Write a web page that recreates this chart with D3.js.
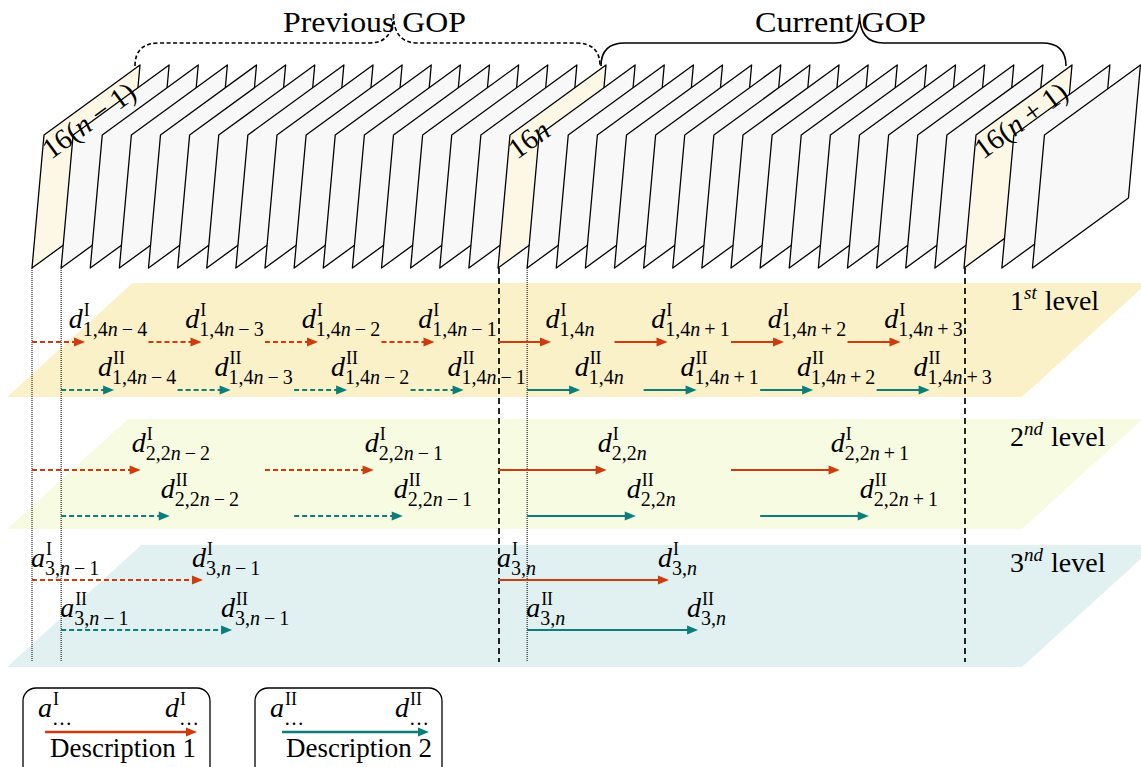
<!DOCTYPE html>
<html>
<head>
<meta charset="utf-8" />
<title>GOP description levels</title>
<script src="https://d3js.org/d3.v7.min.js"></script>
<style>
  body { margin: 0; background: #fff; }
  text { font-family: "Liberation Serif", "DejaVu Serif", serif; fill: #000; }
</style>
</head>
<body>
<svg id="fig"></svg>
<script>
// ---- data ----
// frames, in frame units counted from frame 16(n-1)
var frameIndex = [0,1,2,3,4,5,6,7,8,9,10,11,12,13,14,15,16,17,18,19,20,21,22,23,24,25,26,27,28,29,30,31,32,33.3,34.35];
var keyFrames = [0, 16, 32];
var keyFrameLabels = ["16(n−1)", "16n", "16(n+1)"];
var gopNames = ["Previous GOP", "Current GOP"];
var gopBounds = [[0, 16], [16, 32]];
var currentGopStart = 16;

var levelNums = ["1", "2", "3"];
var levelSups = ["st", "nd", "nd"];
var startsI = [[0, 4, 8, 12, 16, 20, 24, 28], [0, 8, 16, 24], [0, 16]];
var startsII = [[1, 5, 9, 13, 17, 21, 25, 29], [1, 9, 17, 25], [1, 17]];
var spans = [1.82, 3.73, 5.87]; // arrow length in frames
var subLabels = [
  ["1,4n−4", "1,4n−3", "1,4n−2", "1,4n−1", "1,4n", "1,4n+1", "1,4n+2", "1,4n+3"],
  ["2,2n−2", "2,2n−1", "2,2n", "2,2n+1"],
  ["3,n−1", "3,n"]
];
var descNames = ["Description 1", "Description 2"];
var descSups = ["I", "II"];
var dottedLines = [0, 1, 17];
var dashedLines = [16, 32];

// ---- layout ----
var width = 1141, height = 767;
var red = "#cf3b0c", teal = "#0c7e7a";
var colors = [red, teal];
var levelLayout = [
  {top: 283, bottom: 397, fill: "#fbf1c9", rows: [342, 390], lab: 14, anchor: "middle", off: 19},
  {top: 419, bottom: 529, fill: "#f7fbe1", rows: [470, 516], lab: 18, anchor: "start", off: -9},
  {top: 545, bottom: 667, fill: "#e1f1f1", rows: [580, 630], lab: 13, anchor: "start", off: -11}
];

var svg = d3.select("#fig").attr("width", width).attr("height", height);

var x = d3.scaleLinear().domain([0, 32]).range([32, 964]);
var step = x(1) - x(0);

// write text where lower-case letters are italic and +/− get math spacing
function appendMath(t, str, gap, first) {
  var parts = str.match(/[a-z]|[−+]|[^a-z−+]+/g);
  var pad = 0;
  parts.forEach(function(p, i) {
    var ts = t.append("tspan").text(p);
    if (i === 0 && first) first(ts);
    if (/[a-z]/.test(p)) ts.style("font-style", "italic");
    if (p === "−" || p === "+") { ts.attr("dx", gap); pad = gap; }
    else if (pad) { ts.attr("dx", pad); pad = 0; }
  });
  return t;
}

// letter with stacked superscript / subscript, as one text element
function mathLabel(parent, xPos, yBase, letter, sup, sub, anchor) {
  var probe = parent.append("text").style("font-style", "italic").style("font-size", "28px").text(letter);
  var w = probe.node().getComputedTextLength();
  probe.remove();
  var t = parent.append("text").attr("y", yBase);
  t.append("tspan").style("font-style", "italic").style("font-size", "28px").text(letter);
  t.append("tspan").attr("dx", 1).attr("dy", -12).style("font-size", "18px").text(sup);
  var supW = t.node().getComputedTextLength() - w;
  var subStart = null;
  appendMath(t, sub, 4, function(ts) { subStart = ts; });
  subStart.attr("dy", 20);
  t.selectAll("tspan").filter(function(d, i) { return i >= 2; }).style("font-size", "20px");
  // put the subscript under the superscript
  var total = t.node().getComputedTextLength();
  var subW = total - w - supW;
  subStart.attr("dx", -supW - 1 + (+subStart.attr("dx") || 0));
  var full = w + Math.max(supW, subW);
  var x0 = anchor === "middle" ? xPos - full / 2 : xPos;
  t.attr("x", x0);
}

function arrow(parent, x1, x2, y, color, dashed, w) {
  parent.append("line")
    .attr("x1", x1).attr("x2", x2 - 8).attr("y1", y).attr("y2", y)
    .attr("stroke", color).attr("stroke-width", w || 2)
    .attr("stroke-dasharray", dashed ? "5,3" : null);
  parent.append("path")
    .attr("d", "M" + x2 + "," + y + "L" + (x2 - 11) + "," + (y - 4.5) + "L" + (x2 - 11) + "," + (y + 4.5) + "Z")
    .attr("fill", color);
}

// ---- level planes ----
var planes = svg.append("g");
levelLayout.forEach(function(L) {
  var h = L.bottom - L.top, skew = h * 1.1;
  planes.append("path")
    .attr("d", "M7," + L.bottom + "L" + (7 + skew) + "," + L.top + "L" + (1022 + skew) + "," + L.top +
      "L1022," + L.bottom + "Z")
    .attr("fill", L.fill);
});

// ---- frames ----
var fy = 268;
var frames = svg.append("g");
frameIndex.forEach(function(i) {
  var x0 = x(i);
  var pts = [[x0, fy], [x0 + 12, fy - 133], [x0 + 108, fy - 203], [x0 + 96, fy - 70]];
  frames.append("path")
    .attr("d", "M" + pts.join("L") + "Z")
    .attr("fill", keyFrames.indexOf(i) >= 0 ? "#fdf7e6" : "#f8f8f8")
    .attr("stroke", "#000").attr("stroke-width", 1.3).attr("stroke-linejoin", "round");
});
keyFrames.forEach(function(i, k) {
  var t = frames.append("text")
    .attr("transform", "translate(" + (x(i) + 19) + ",160) rotate(-36.1)")
    .style("font-size", "29px");
  appendMath(t, keyFrameLabels[k], 7);
});

// ---- GOP braces ----
var braces = svg.append("g");
gopBounds.forEach(function(b, k) {
  var xa = x(b[0]) + 103, xb = x(b[1]) + 102, y0 = 66, yl = 43, yt = 14, r = 24;
  var xt = (xa + xb) / 2 + 26;
  var d = "M" + xa + "," + y0 + "Q" + xa + "," + yl + " " + (xa + r) + "," + yl +
    "L" + (xt - r) + "," + yl + "Q" + xt + "," + yl + " " + xt + "," + yt +
    "M" + xt + "," + yt + "Q" + xt + "," + yl + " " + (xt + r) + "," + yl +
    "L" + (xb - r) + "," + yl + "Q" + xb + "," + yl + " " + xb + "," + y0;
  braces.append("path").attr("d", d).attr("fill", "none")
    .attr("stroke", "#000").attr("stroke-width", 1.6)
    .attr("stroke-dasharray", k === 0 ? "4,2.5" : null);
  braces.append("text")
    .attr("x", (xa + xb) / 2 + 7).attr("y", 32)
    .attr("text-anchor", "middle")
    .attr("textLength", k === 0 ? 183 : 171).attr("lengthAdjust", "spacingAndGlyphs")
    .style("font-size", "29px").text(gopNames[k]);
});

// ---- vertical guides ----
var guides = svg.append("g");
dottedLines.forEach(function(i) {
  guides.append("line").attr("x1", x(i)).attr("x2", x(i)).attr("y1", fy).attr("y2", 662)
    .attr("stroke", "#000").attr("stroke-width", 1).attr("stroke-dasharray", "1,1");
});
dashedLines.forEach(function(i) {
  guides.append("line").attr("x1", x(i) + 1).attr("x2", x(i) + 1).attr("y1", fy).attr("y2", 662)
    .attr("stroke", "#000").attr("stroke-width", 1.7).attr("stroke-dasharray", "6,4");
});

// ---- arrows and labels ----
var marks = svg.append("g");
levelLayout.forEach(function(L, li) {
  [startsI[li], startsII[li]].forEach(function(starts, d) {
    var y = L.rows[d];
    starts.forEach(function(s, j) {
      var x1 = x(s), x2 = x1 + spans[li] * step;
      arrow(marks, x1, x2, y, colors[d], s < currentGopStart);
      mathLabel(marks, x2 + L.off, y - L.lab, "d", descSups[d], subLabels[li][j], L.anchor);
      if (li === 2) mathLabel(marks, x1 - 1, y - L.lab, "a", descSups[d], subLabels[li][j], "start");
    });
  });
  var t = marks.append("text").attr("x", 1010).attr("y", L.top + 27).style("font-size", "28px");
  t.append("tspan").text(levelNums[li]);
  t.append("tspan").attr("dy", -11).style("font-size", "19px").style("font-style", "italic").text(levelSups[li]);
  t.append("tspan").attr("dy", 11).attr("dx", 8).text("level");
});

// ---- legend ----
var legend = svg.append("g");
descNames.forEach(function(name, k) {
  var bx = 23 + k * 232;
  legend.append("rect").attr("x", bx).attr("y", 688).attr("width", 187).attr("height", 100)
    .attr("rx", 13).attr("fill", "#fff").attr("stroke", "#000").attr("stroke-width", 1.3);
  arrow(legend, bx + 22 + k * 5, bx + 174, 732, colors[k], false, 2.6);
  mathLabel(legend, bx + 15, 717, "a", descSups[k], "…", "start");
  mathLabel(legend, bx + 142 - k * 2, 717, "d", descSups[k], "…", "start");
  legend.append("text").attr("x", bx + 27 + k * 4).attr("y", 757)
    .attr("textLength", 146).attr("lengthAdjust", "spacingAndGlyphs")
    .style("font-size", "28px").text(name);
});
</script>
</body>
</html>
